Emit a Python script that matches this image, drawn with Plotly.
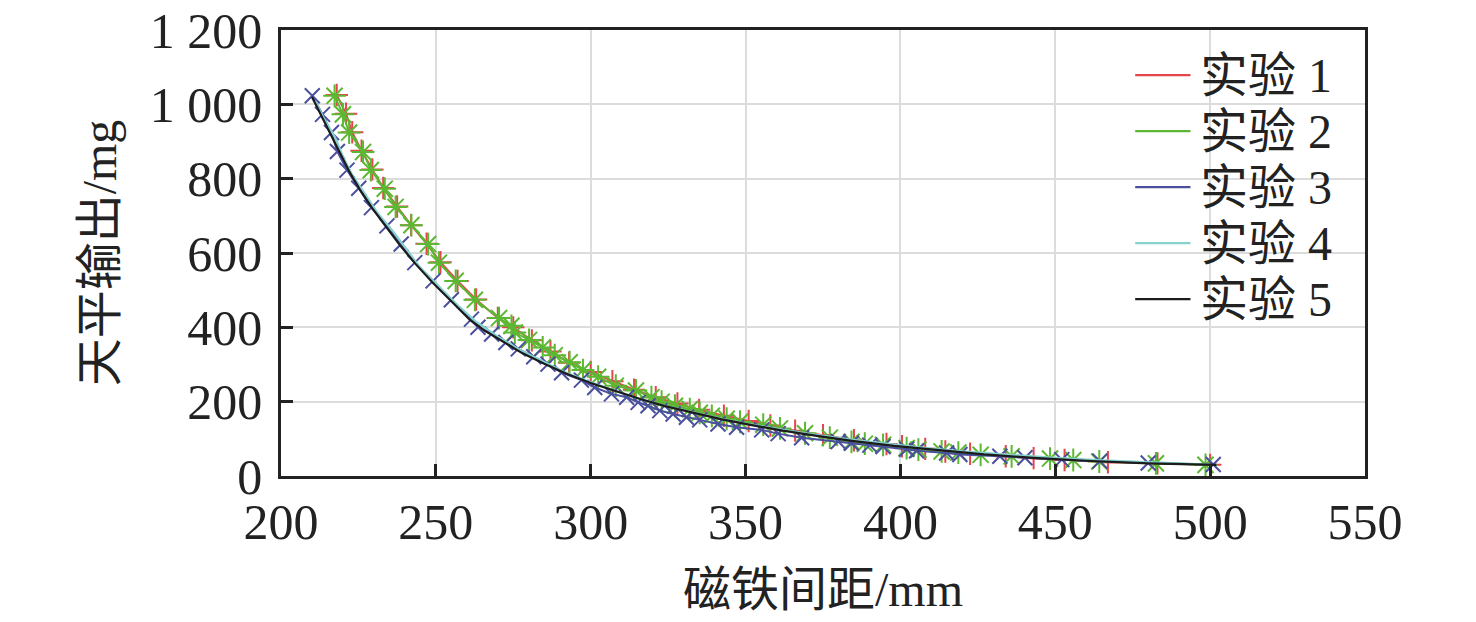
import plotly.graph_objects as go

# 实验 1 (red, + markers)
exp1_x = [218, 221, 223, 226, 229.5, 233, 237.5, 242, 247, 251.5, 257, 263, 270, 275, 281, 287,
          293, 300, 307, 314, 321, 328, 335, 343, 351, 358, 366, 375, 385, 395.5, 400.5, 408,
          414.5, 422.5, 434, 443, 453, 467, 483, 500]
exp1_y = [1025, 975, 925, 875, 825, 775, 725, 675, 625, 575, 525, 475, 425, 400, 365, 335,
          305, 280, 255, 232, 212, 195, 178, 162, 148, 136, 122, 110, 96, 86, 80, 73,
          66, 60, 53, 48, 43, 37, 34, 30]

# 实验 2 (green, asterisk markers)
exp2_x = [217.3, 220.0, 222.0, 226.5, 229.0, 233.5, 237.0, 242.1, 247.5, 251.0, 256.4, 262.6,
          270.4, 274.4, 275.5, 280.1, 284.5, 288.4, 293.2, 297.5, 302.4, 308.1, 314.6, 319.6,
          322.9, 327.2, 332.0, 335.2, 339.1, 343.9, 348.2, 355.7, 361.1, 369.2, 377.2, 384.2,
          388.5, 394.4, 402.0, 405.8, 413.3, 418.7, 425.9, 435.9, 448.3, 455.8, 464.2, 482.5, 498.5]
exp2_y = [1023, 973, 924, 872, 823, 773, 724, 675, 624, 574, 525, 474,
          425, 404, 386, 366, 346, 325, 306, 285, 267, 243, 230, 212,
          200, 189, 180, 170, 162, 154, 146, 138, 128, 115, 103, 92,
          87, 84, 75, 71, 66, 63, 57, 53, 47, 43, 39, 34, 30]

# 实验 3 (blue, x markers)
exp3_x = [210.1, 213.4, 216.3, 218.2, 221.3, 225.1, 229.2, 234.2, 238.8, 243.2, 249.1, 255.0,
          261.5, 263.6, 268.0, 272.6, 276.6, 281.6, 286.2, 290.6, 297.0, 301.3, 306.7, 311.6,
          315.3, 318.5, 322.3, 326.6, 330.9, 335.2, 341.1, 347.1, 355.2, 360.5, 368.1, 379.9,
          384.2, 390.1, 394.4, 402.0, 405.2, 414.9, 419.2, 432.1, 440.2, 452.1, 464.4, 480.0, 501.0]
exp3_y = [1023, 973, 924, 873, 823, 774, 722, 673, 624, 574, 525, 474,
          422, 400, 382, 359, 342, 321, 301, 278, 258, 238, 221, 212,
          198, 189, 176, 167, 158, 151, 140, 131, 124, 114, 103, 93,
          88, 83, 79, 72, 68, 62, 58, 53, 49, 44, 40, 35, 31]

# 实验 4 (cyan line)
exp4_x = [211, 214, 217.5, 220, 223, 227, 231, 236, 240.5, 245, 251, 257, 263, 270, 277, 284,
          291, 298, 306, 314, 322, 331, 340, 350, 360, 370, 382, 394, 406, 420, 435, 450,
          465, 482, 500]
exp4_y = [1010, 960, 910, 860, 810, 760, 710, 660, 610, 560, 510, 460, 415, 375, 340, 310,
          282, 258, 234, 212, 193, 175, 158, 141, 127, 114, 100, 88, 77, 66, 57, 49,
          42, 36, 31]

# 实验 5 (black line)
exp5_x = [210, 213, 215.5, 219, 222, 225.5, 229.5, 234, 238.5, 243.5, 249, 255, 261, 266, 272,
          278, 285, 292, 300, 308, 316, 324, 333, 342, 352, 362, 373, 385, 398, 412, 427,
          443, 460, 480, 502]
exp5_y = [1020, 970, 925, 870, 820, 770, 720, 670, 620, 570, 520, 470, 420, 390, 360,
          330, 302, 276, 250, 228, 207, 188, 170, 153, 137, 122, 108, 94, 81, 69, 58,
          49, 41, 34, 30]

names = ['实验 1', '实验 2', '实验 3', '实验 4', '实验 5']
colors = ['#e5464e', '#5cb832', '#4b4f9e', '#86d2d0', '#1c1c1c']

x_ticks = [200, 250, 300, 350, 400, 450, 500, 550]
y_ticks = [0, 200, 400, 600, 800, 1000, 1200]
y_tick_text = ['0', '200', '400', '600', '800', '1 000', '1 200']

FONT = 'Liberation Serif, Times New Roman, Noto Sans CJK SC, serif'

fig = go.Figure()

series = [(exp1_x, exp1_y, 'cross-thin', 16),
          (exp2_x, exp2_y, 'asterisk', 19),
          (exp3_x, exp3_y, 'x-thin', 15),
          (exp4_x, exp4_y, None, 0),
          (exp5_x, exp5_y, None, 0)]

for (xs, ys, sym, sz), name, col in zip(series, names, colors):
    if sym:
        fig.add_trace(go.Scatter(
            x=xs, y=ys, mode='lines+markers', name=name, showlegend=False,
            line=dict(color=col, width=2),
            marker=dict(symbol=sym, size=sz, color=col, line=dict(color=col, width=2))
        ))
    else:
        fig.add_trace(go.Scatter(
            x=xs, y=ys, mode='lines', name=name, showlegend=False,
            line=dict(color=col, width=2.2)
        ))

# hand-made legend: the plotly one spaces rows too far apart at this font size
leg_top = 0.899
leg_step = 0.1256
for i, (name, col) in enumerate(zip(names, colors)):
    yy = leg_top - i * leg_step
    fig.add_shape(type='line', xref='paper', yref='paper',
                  x0=0.788, x1=0.839, y0=yy, y1=yy,
                  line=dict(color=col, width=2.2))
    fig.add_annotation(xref='paper', yref='paper', x=0.846, y=yy,
                       xanchor='left', yanchor='middle', showarrow=False,
                       text=name, font=dict(size=48, color='#222'))

fig.update_layout(
    width=1476, height=622,
    paper_bgcolor='white', plot_bgcolor='white',
    font=dict(family=FONT, size=50, color='#222'),
    # page body has an 8px margin, so shift the plot area back by that much
    margin=dict(l=273, r=119, t=22, b=154),
    showlegend=False,
    xaxis=dict(
        range=[200, 550], tickvals=x_ticks, automargin=False,
        ticklabeloverflow='allow',
        title=dict(text='磁铁间距/mm', standoff=24, font=dict(size=48)),
        showline=True, linecolor='#222', linewidth=2.5, mirror=True,
        ticks='inside', ticklen=12, tickwidth=3, tickcolor='#222',
        showgrid=True, gridcolor='#dcdcdc', gridwidth=1.5, zeroline=False
    ),
    yaxis=dict(
        range=[0, 1200], tickvals=y_ticks, ticktext=y_tick_text, automargin=False,
        ticklabelstandoff=6, ticklabeloverflow='allow',
        title=dict(text='天平输出/mg', standoff=18, font=dict(size=48)),
        showline=True, linecolor='#222', linewidth=2.5, mirror=True,
        ticks='inside', ticklen=12, tickwidth=3, tickcolor='#222',
        showgrid=True, gridcolor='#dcdcdc', gridwidth=1.5, zeroline=False
    )
)

fig.write_html("out.html")
